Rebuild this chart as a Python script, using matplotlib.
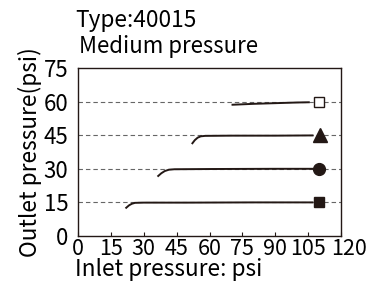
import numpy as np
import matplotlib
matplotlib.use('Agg')
import matplotlib.pyplot as plt
import matplotlib.transforms as mtransforms

plt.rcParams['font.family'] = ['Noto Sans CJK JP', 'DejaVu Sans']

# curve points (inlet, outlet)
c15_x = [22, 23.3, 24.6, 26, 30, 50, 80, 107]
c15_y = [12.6, 13.7, 14.4, 14.8, 14.9, 14.9, 15.0, 15.0]
c30_x = [36.6, 38, 39.6, 41.5, 44, 60, 90, 107]
c30_y = [26.8, 28.0, 29.0, 29.6, 29.8, 29.9, 30.0, 30.0]
c45_x = [52.2, 53.3, 54.6, 56, 58, 70, 90, 107]
c45_y = [41.4, 42.8, 43.9, 44.5, 44.7, 44.8, 44.8, 44.9]
c60_x = [70.5, 80, 90, 100, 105.3]
c60_y = [58.6, 59.0, 59.3, 59.6, 59.7]

marker_x = [110, 110, 110.4, 109.8]
marker_y = [15, 30, 45, 60]
marker_kind = ['s', 'o', '^', 's']
marker_size = [7.5, 8.5, 10, 7.5]
marker_fill = ['#231815', '#231815', '#231815', 'white']

levels = [15, 30, 45, 60]
xticks = [0, 15, 30, 45, 60, 75, 90, 105, 120]
yticks = [0, 15, 30, 45, 60, 75]

fig = plt.figure(figsize=(3.75, 2.81), dpi=100)
ax = fig.add_axes([78/375, 1-236/281, 263/375, 168/281])

for lv in levels:
    ax.axhline(lv, color='#666666', lw=0.8, ls=(0, (4, 2.7)), zorder=1)

for xs, ys in [(c15_x, c15_y), (c30_x, c30_y), (c45_x, c45_y), (c60_x, c60_y)]:
    ax.plot(xs, ys, color='#231815', lw=1.4, zorder=2)

for mx, my, mk, ms, mf in zip(marker_x, marker_y, marker_kind, marker_size, marker_fill):
    ax.plot(mx, my, marker=mk, ms=ms, mfc=mf, mec='#231815', mew=1, zorder=3)

ax.set_xlim(0, 120)
ax.set_ylim(0, 75)
ax.set_xticks(xticks)
ax.set_yticks(yticks)
ax.tick_params(axis='x', direction='in', length=3, labelsize=15.5, pad=1.5, color='#231815')
ax.tick_params(axis='y', length=0, labelsize=16, pad=7)
# last label sits a bit right of its tick in the original
last = ax.xaxis.get_major_ticks()[-1].label1
last.set_transform(last.get_transform() + mtransforms.ScaledTranslation(8/100, 0, fig.dpi_scale_trans))
for s in ax.spines.values():
    s.set_color('#231815')
    s.set_linewidth(1)

ax.set_ylabel('Outlet pressure(psi)', fontsize=16.3, labelpad=1)
fig.text(75/375, 0.0, 'Inlet pressure: psi', fontsize=16.3, va='bottom')

fig.text(75/375, 1-21/281, 'Type:40015', fontsize=16.3, va='center')
fig.text(79/375, 1-47/281, 'Medium pressure', fontsize=16, va='center')

fig.savefig('out.png', dpi=100)
